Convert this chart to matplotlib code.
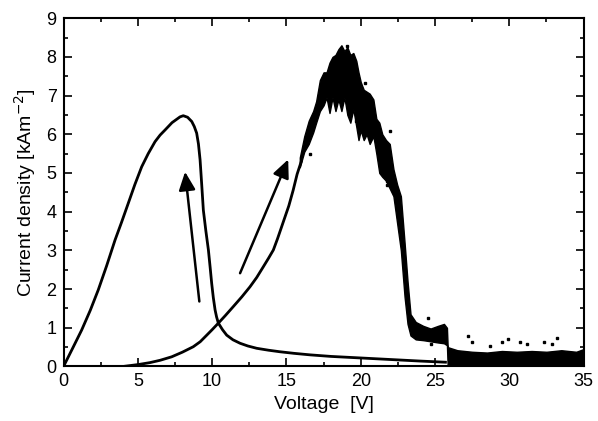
import numpy as np
import matplotlib
matplotlib.use('Agg')
import matplotlib.pyplot as plt
from matplotlib.ticker import MultipleLocator

plt.rcParams['font.family'] = ['Liberation Sans', 'DejaVu Sans']

# smooth curve, peak at ~8 V then sharp drop
v_left = [0, 0.6, 1.22, 1.8, 2.34, 2.9, 3.47, 3.9, 4.36, 4.8, 5.26, 5.7, 6.16, 6.5, 6.83,
          7.3, 7.84, 8.06, 8.35, 8.63, 8.8, 8.96, 9.08, 9.19, 9.3, 9.41, 9.58, 9.75, 9.87,
          9.97, 10.08, 10.2, 10.3, 10.42, 10.7, 10.98, 11.4, 11.88, 12.4, 13.0, 13.8,
          14.57, 15.5, 16.6, 18.0, 20.0, 22.0, 24.0, 25.7]
i_left = [0, 0.46, 0.94, 1.45, 1.98, 2.6, 3.27, 3.72, 4.22, 4.7, 5.16, 5.5, 5.81, 5.98, 6.11,
          6.3, 6.45, 6.48, 6.44, 6.33, 6.2, 6.03, 5.75, 5.34, 4.7, 4.04, 3.5, 3.01, 2.55,
          2.15, 1.78, 1.46, 1.28, 1.12, 0.95, 0.81, 0.69, 0.60, 0.53, 0.47, 0.42,
          0.38, 0.34, 0.30, 0.26, 0.22, 0.18, 0.14, 0.11]

# smooth rising curve up to where the noisy part begins
v_right = [0, 4.0, 5.03, 5.82, 6.5, 7.28, 8.0, 8.73, 9.2, 9.64, 10.0, 10.42, 10.9, 11.43,
           12.0, 12.55, 13.0, 13.45, 13.8, 14.12, 14.4, 14.65, 14.9, 15.16, 15.45, 15.72, 16.0]
i_right = [0, 0.0, 0.05, 0.1, 0.16, 0.25, 0.37, 0.51, 0.64, 0.81, 0.95, 1.12, 1.32, 1.55,
           1.8, 2.06, 2.3, 2.58, 2.8, 3.01, 3.3, 3.58, 3.86, 4.15, 4.55, 4.97, 5.3]

# noisy measured region, as lower / upper envelope
v_band = [15.9, 16.2, 16.5, 16.8, 17.0, 17.25, 17.5, 17.7, 17.9, 18.1, 18.3, 18.5, 18.7,
          18.9, 19.1, 19.3, 19.5, 19.7, 19.85, 20.0, 20.2, 20.4, 20.6, 20.85, 21.05, 21.25,
          21.45, 21.7, 21.95, 22.2, 22.45, 22.7, 22.95, 23.15, 23.35, 23.7, 24.2, 24.7,
          25.2, 25.6, 25.8, 25.85, 26.5, 27.5, 28.5, 29.5, 30.5, 31.5, 32.5, 33.5, 34.5, 35.0]
i_low = [5.15, 5.55, 5.75, 6.05, 6.3, 6.6, 6.75, 6.95, 6.55, 6.95, 6.6, 6.9, 6.6,
         6.95, 6.5, 6.3, 6.65, 6.2, 5.85, 6.1, 5.85, 6.0, 5.75, 5.95, 5.5, 5.0,
         4.9, 4.8, 4.6, 4.4, 3.7, 3.0, 1.8, 1.1, 0.8, 0.7, 0.68, 0.65,
         0.62, 0.6, 0.55, 0.02, 0.02, 0.02, 0.02, 0.02, 0.02, 0.02, 0.02, 0.02, 0.02, 0.02]
i_high = [5.4, 5.95, 6.35, 6.6, 6.85, 7.4, 7.6, 7.6, 7.85, 8.0, 8.05, 8.2, 8.3,
          8.15, 8.25, 8.05, 8.1, 7.9, 7.6, 7.35, 7.15, 7.1, 7.05, 6.9, 6.4, 6.3,
          6.0, 5.85, 5.75, 5.1, 4.7, 4.4, 3.2, 2.2, 1.35, 1.15, 1.05, 0.98,
          1.05, 1.1, 1.0, 0.5, 0.42, 0.38, 0.36, 0.4, 0.38, 0.4, 0.38, 0.42, 0.38, 0.45]

# stray points outside the dense band
v_dots = [16.6, 19.1, 19.65, 20.3, 21.8, 21.8, 22.0, 24.5, 24.7, 27.2, 27.5, 28.7, 29.5,
          29.9, 30.7, 31.2, 32.3, 32.9, 33.2]
i_dots = [5.48, 8.27, 6.34, 7.33, 4.8, 4.7, 6.08, 1.25, 0.58, 0.8, 0.63, 0.54, 0.63,
          0.71, 0.63, 0.58, 0.63, 0.58, 0.74]

# arrows: (tail V, tail I, head V, head I)
arrows = [(9.14, 1.68, 8.18, 5.03), (11.88, 2.41, 15.12, 5.35)]

fig = plt.figure(figsize=(5.98, 4.21), dpi=100)
ax = fig.add_axes([0.1062, 0.1295, 0.8698, 0.8273])

ax.plot(v_left, i_left, color='black', lw=2.0, solid_joinstyle='round')
ax.plot(v_right, i_right, color='black', lw=2.0, solid_joinstyle='round')
ax.fill_between(v_band, i_low, i_high, color='black', lw=1.0, edgecolor='black')
ax.plot(v_dots, i_dots, 's', color='black', ms=1.8)

for x0, y0, x1, y1 in arrows:
    ax.annotate('', xy=(x1, y1), xytext=(x0, y0),
                arrowprops=dict(arrowstyle='-|>,head_length=1.1,head_width=0.5',
                                mutation_scale=10, color='black', lw=1.8,
                                shrinkA=0, shrinkB=0))

ax.set_xlim(0, 35)
ax.set_ylim(0, 9)
ax.xaxis.set_major_locator(MultipleLocator(5))
ax.xaxis.set_minor_locator(MultipleLocator(2.5))
ax.yaxis.set_major_locator(MultipleLocator(1))
ax.yaxis.set_minor_locator(MultipleLocator(0.5))
ax.tick_params(which='both', direction='in', top=True, right=True, width=1.2,
               labelsize=13, pad=5)
ax.tick_params(which='major', length=6)
ax.tick_params(which='minor', length=3)
for s in ax.spines.values():
    s.set_linewidth(1.5)

ax.set_xlabel('Voltage  [V]', fontsize=14, labelpad=4)
ax.set_ylabel('Current density [kAm$^{-2}$]', fontsize=14, labelpad=6)

fig.savefig('out.png', dpi=100)
